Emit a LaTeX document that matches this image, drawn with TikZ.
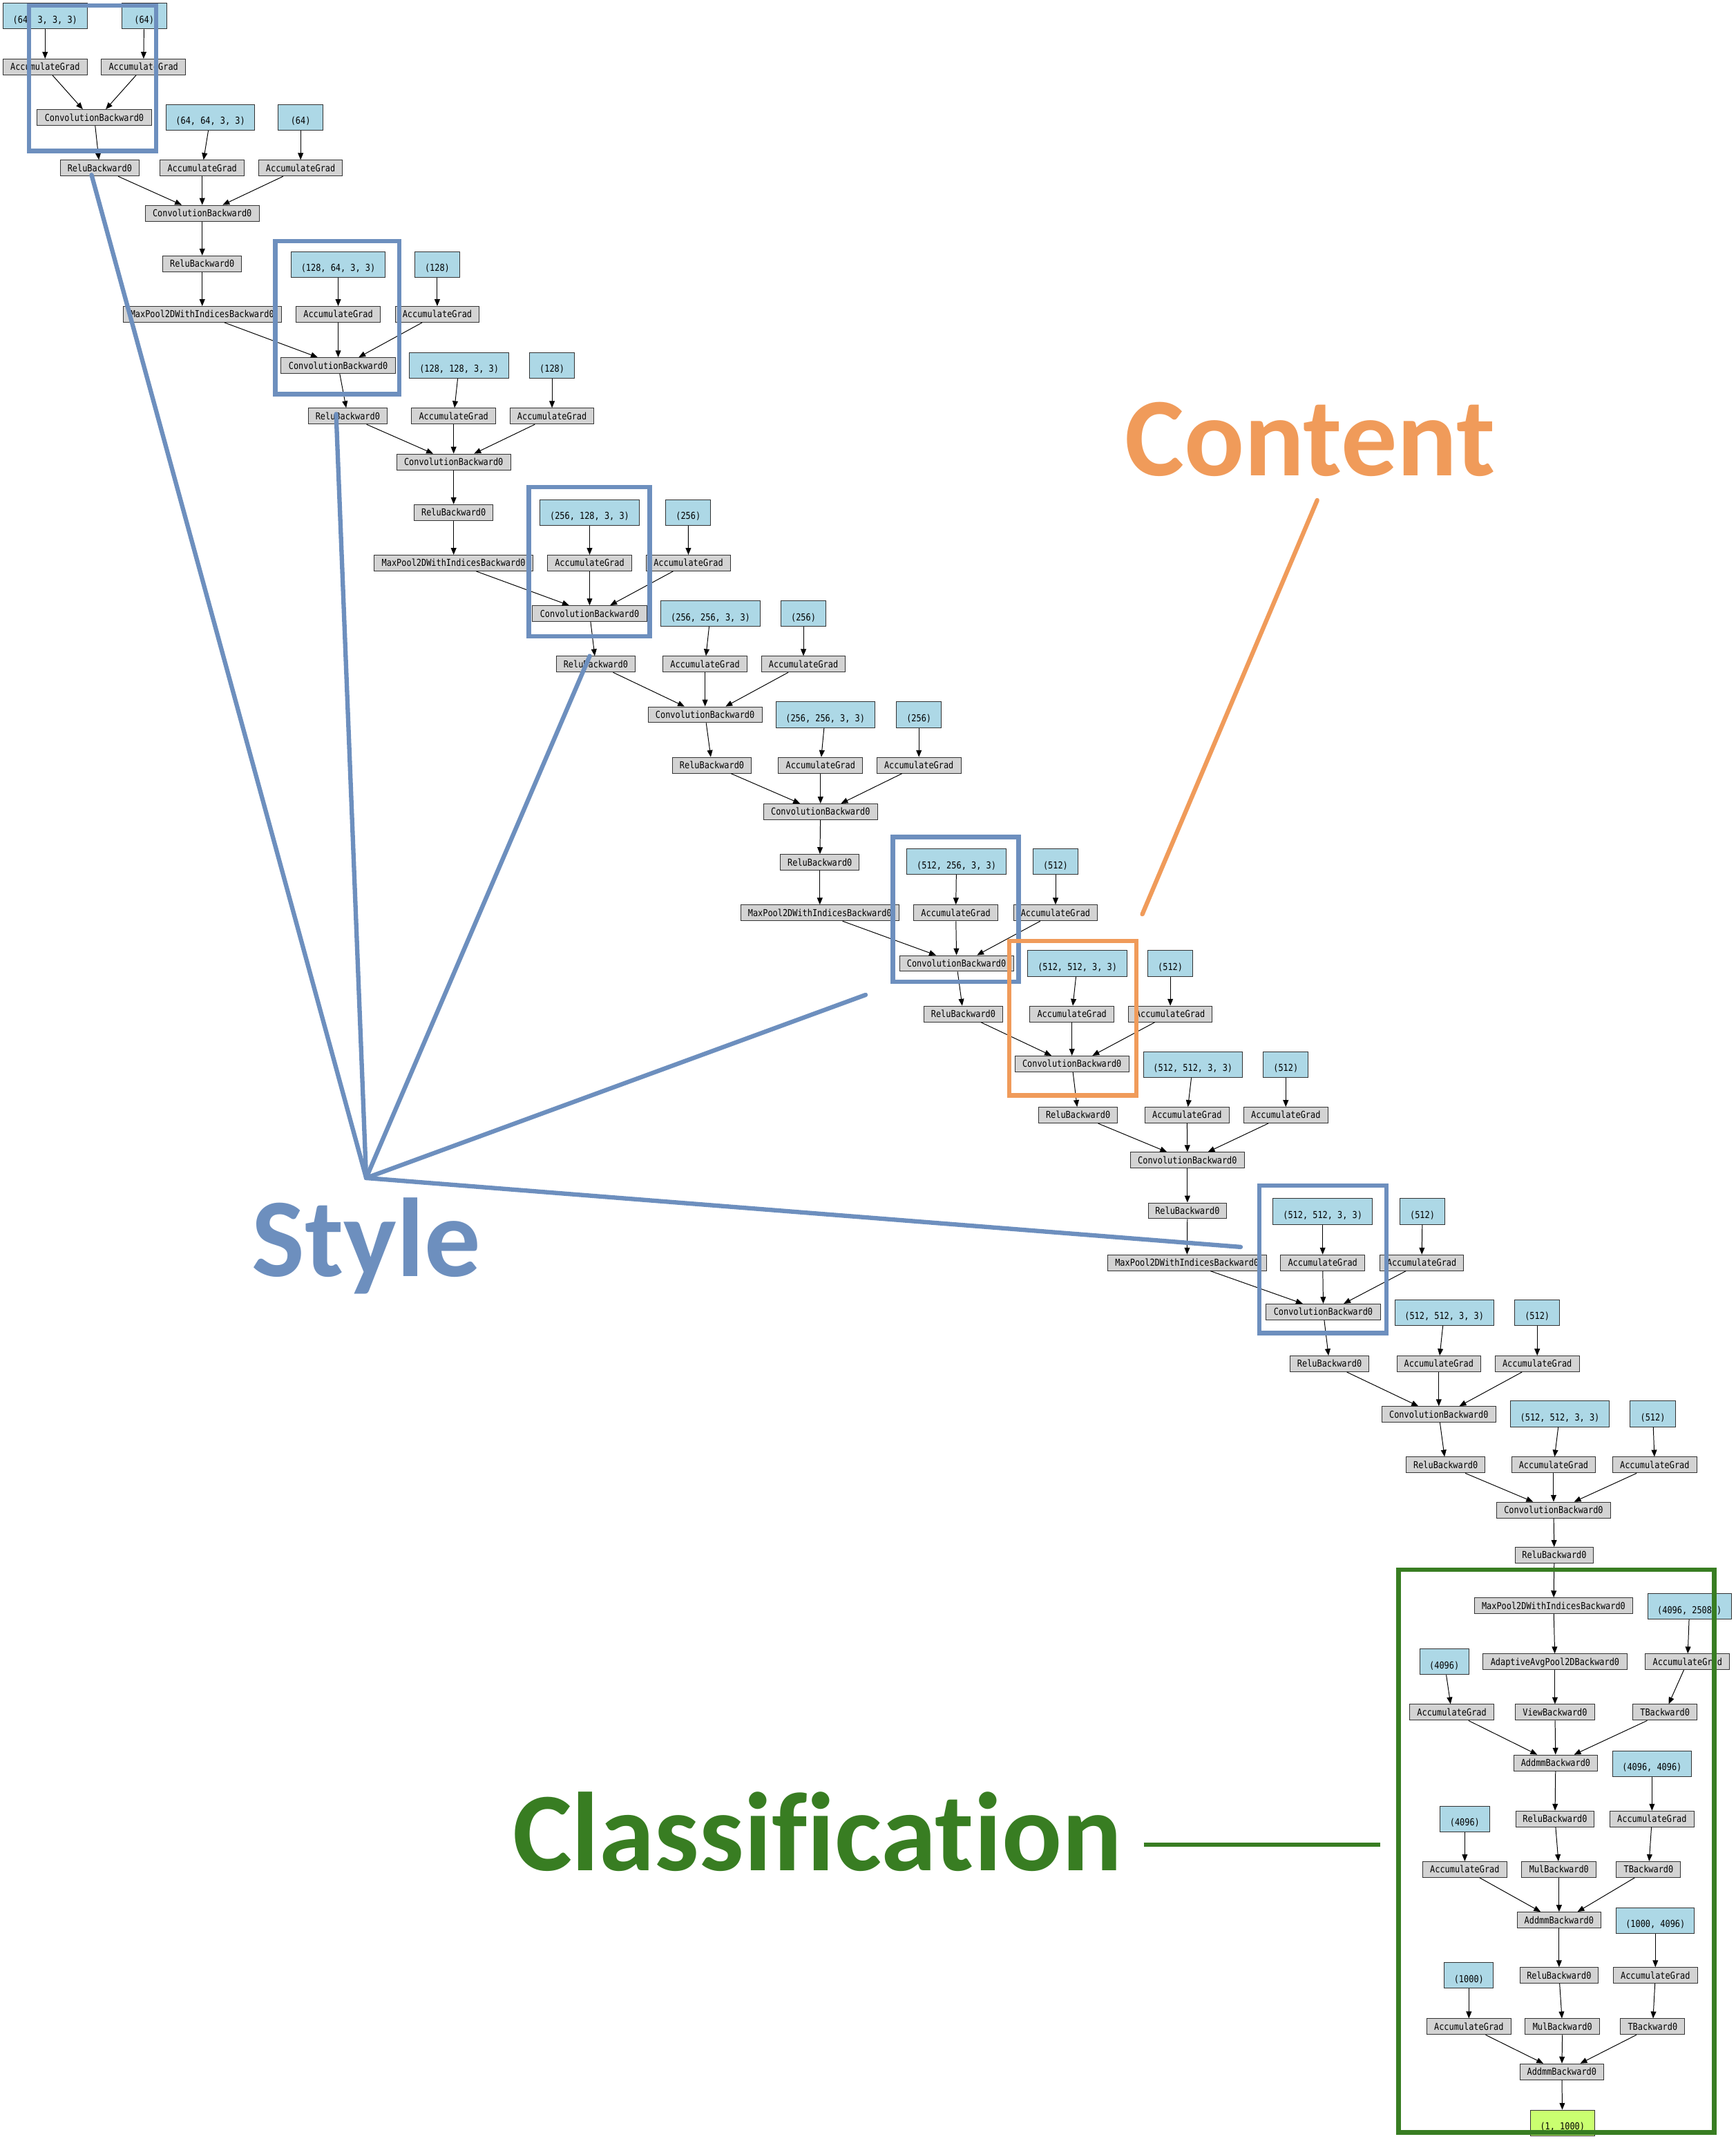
\documentclass[tikz,border=0pt]{standalone}
\usepackage{fontspec}
\usetikzlibrary{arrows.meta}
\newfontfamily\gvfont[FakeStretch=0.86]{DejaVu Sans Mono}
\newfontfamily\bigfont[Ligatures={NoCommon,NoRare,NoContextual}]{Carlito}
\definecolor{gvgray}{HTML}{D3D3D3}
\definecolor{gvblue}{HTML}{ADD8E6}
\definecolor{gvgreen}{HTML}{CAFF70}
\definecolor{stylecol}{RGB}{109,143,190}
\definecolor{contentcol}{RGB}{240,155,90}
\definecolor{classcol}{RGB}{56,125,34}
\newcommand\cblock[2]{%
  \draw[e] (P#1w) -- (A#1w);
  \draw[e] (P#1b) -- (A#1b);
  \draw[e] (#2) -- ([xshift=-15pt]C#1.north);
  \draw[e] (A#1w) -- (C#1.north);
  \draw[e] (A#1b) -- ([xshift=15pt]C#1.north);
  \draw[e] (C#1) -- (R#1);}
\begin{document}
\begin{tikzpicture}[x=1pt,y=-1pt,
  gn/.style={draw=black!80, line width=0.5pt, fill=gvgray, inner sep=0pt,
    minimum height=11.6pt, minimum width=#1, text height=5pt, text depth=0pt,
    font=\gvfont\fontsize{7}{8}\selectfont},
  pn/.style={gn=#1, fill=gvblue, minimum height=18.8pt, text height=10pt},
  on/.style={pn=#1, fill=gvgreen},
  nacc/.style={gn=61.5pt}, nconv/.style={gn=83.5pt}, nrelu/.style={gn=57.5pt},
  nmax/.style={gn=116pt}, naap/.style={gn=106pt}, nview/.style={gn=58pt},
  ntb/.style={gn=47pt}, naddmm/.style={gn=61.5pt}, nmul/.style={gn=54.5pt},
  pbig/.style={pn=72.5pt}, psmall/.style={pn=33pt},
  e/.style={line width=0.5pt, -{Triangle[length=5pt,width=4pt]}},
  ann/.style={line width=3.2pt, line cap=round},
  bigtxt/.style={anchor=base west, inner sep=0pt, font=\bigfont\bfseries\fontsize{82}{82}\selectfont}]
\fill[white] (0,0) rectangle (1270,1565.25);
\useasboundingbox (0,0) rectangle (1270,1565.25);

% block 1
\node[pn=61.4pt] (P1w) at (33,11.8) {(64, 3, 3, 3)};
\node[psmall] (P1b) at (105.5,11.8) {(64)};
\node[nacc] (A1w) at (33,49) {AccumulateGrad};
\node[nacc] (A1b) at (105,49) {AccumulateGrad};
\node[nconv] (C1) at (69,86) {ConvolutionBackward0};
\node[nrelu] (R1) at (73,123) {ReluBackward0};
% block 2
\node[pn=65pt] (P2w) at (154,86) {(64, 64, 3, 3)};
\node[psmall] (P2b) at (220,86) {(64)};
\node[nacc] (A2w) at (148,123) {AccumulateGrad};
\node[nacc] (A2b) at (220,123) {AccumulateGrad};
\node[nconv] (C2) at (148,156) {ConvolutionBackward0};
\node[nrelu] (R2) at (148,193) {ReluBackward0};
\node[nmax] (M1) at (148,230) {MaxPool2DWithIndicesBackward0};
% block 3
\node[pn=68.7pt] (P3w) at (247.5,193.5) {(128, 64, 3, 3)};
\node[psmall] (P3b) at (320,193.5) {(128)};
\node[nacc] (A3w) at (247.5,230) {AccumulateGrad};
\node[nacc] (A3b) at (320,230) {AccumulateGrad};
\node[nconv] (C3) at (247.5,267.5) {ConvolutionBackward0};
\node[nrelu] (R3) at (254.5,304.5) {ReluBackward0};
% block 4
\node[pbig] (P4w) at (336,267.5) {(128, 128, 3, 3)};
\node[psmall] (P4b) at (404,267.5) {(128)};
\node[nacc] (A4w) at (332,304.5) {AccumulateGrad};
\node[nacc] (A4b) at (404,304.5) {AccumulateGrad};
\node[nconv] (C4) at (332,338) {ConvolutionBackward0};
\node[nrelu] (R4) at (332,375) {ReluBackward0};
\node[nmax] (M2) at (332,412) {MaxPool2DWithIndicesBackward0};
% block 5
\node[pbig] (P5w) at (431.5,375) {(256, 128, 3, 3)};
\node[psmall] (P5b) at (503.7,375) {(256)};
\node[nacc] (A5w) at (431.5,412) {AccumulateGrad};
\node[nacc] (A5b) at (503.8,412) {AccumulateGrad};
\node[nconv] (C5) at (431.5,449) {ConvolutionBackward0};
\node[nrelu] (R5) at (436,486) {ReluBackward0};
% block 6
\node[pbig] (P6w) at (520,449) {(256, 256, 3, 3)};
\node[psmall] (P6b) at (588,449) {(256)};
\node[nacc] (A6w) at (516,486) {AccumulateGrad};
\node[nacc] (A6b) at (588,486) {AccumulateGrad};
\node[nconv] (C6) at (516,523) {ConvolutionBackward0};
\node[nrelu] (R6) at (521,560) {ReluBackward0};
% block 7
\node[pbig] (P7w) at (604,523) {(256, 256, 3, 3)};
\node[psmall] (P7b) at (672.5,523) {(256)};
\node[nacc] (A7w) at (600.5,560) {AccumulateGrad};
\node[nacc] (A7b) at (672.5,560) {AccumulateGrad};
\node[nconv] (C7) at (600.5,594) {ConvolutionBackward0};
\node[nrelu] (R7) at (600,631) {ReluBackward0};
\node[nmax] (M3) at (600,668) {MaxPool2DWithIndicesBackward0};
% block 8
\node[pbig] (P8w) at (700,630.5) {(512, 256, 3, 3)};
\node[psmall] (P8b) at (772.5,630.5) {(512)};
\node[nacc] (A8w) at (699.5,668) {AccumulateGrad};
\node[nacc] (A8b) at (772.5,668) {AccumulateGrad};
\node[nconv] (C8) at (700,705) {ConvolutionBackward0};
\node[nrelu] (R8) at (705,742) {ReluBackward0};
% block 9
\node[pbig] (P9w) at (788.5,705) {(512, 512, 3, 3)};
\node[psmall] (P9b) at (856.5,705) {(512)};
\node[nacc] (A9w) at (784.5,742) {AccumulateGrad};
\node[nacc] (A9b) at (856.5,742) {AccumulateGrad};
\node[nconv] (C9) at (784.5,778.5) {ConvolutionBackward0};
\node[nrelu] (R9) at (789,816) {ReluBackward0};
% block 10
\node[pbig] (P10w) at (873,779) {(512, 512, 3, 3)};
\node[psmall] (P10b) at (941,779) {(512)};
\node[nacc] (A10w) at (868.7,816) {AccumulateGrad};
\node[nacc] (A10b) at (941,816) {AccumulateGrad};
\node[nconv] (C10) at (869,849) {ConvolutionBackward0};
\node[nrelu] (R10) at (869,886) {ReluBackward0};
\node[nmax] (M4) at (868.7,924) {MaxPool2DWithIndicesBackward0};
% block 11
\node[pbig] (P11w) at (968,886.5) {(512, 512, 3, 3)};
\node[psmall] (P11b) at (1041,886.5) {(512)};
\node[nacc] (A11w) at (968,924) {AccumulateGrad};
\node[nacc] (A11b) at (1040.5,924) {AccumulateGrad};
\node[nconv] (C11) at (968.4,960) {ConvolutionBackward0};
\node[nrelu] (R11) at (973,998) {ReluBackward0};
% block 12
\node[pbig] (P12w) at (1057,960.5) {(512, 512, 3, 3)};
\node[psmall] (P12b) at (1125,960.5) {(512)};
\node[nacc] (A12w) at (1053,998) {AccumulateGrad};
\node[nacc] (A12b) at (1125,998) {AccumulateGrad};
\node[nconv] (C12) at (1053,1035) {ConvolutionBackward0};
\node[nrelu] (R12) at (1058,1072) {ReluBackward0};
% block 13
\node[pbig] (P13w) at (1141.6,1034.6) {(512, 512, 3, 3)};
\node[psmall] (P13b) at (1209.6,1034.6) {(512)};
\node[nacc] (A13w) at (1137,1072) {AccumulateGrad};
\node[nacc] (A13b) at (1211,1072) {AccumulateGrad};
\node[nconv] (C13) at (1137,1105) {ConvolutionBackward0};
\node[nrelu] (R13) at (1137.5,1138) {ReluBackward0};
\node[nmax] (M5) at (1137,1175) {MaxPool2DWithIndicesBackward0};
% classifier
\node[pn=61pt] (F1pw) at (1236.5,1175.5) {(4096, 25088)};
\node[pn=36pt] (F1pb) at (1057,1216) {(4096)};
\node[naap] (AAP) at (1138,1216) {AdaptiveAvgPool2DBackward0};
\node[nacc] (F1aw) at (1235,1216) {AccumulateGrad};
\node[nacc] (F1ab) at (1062.5,1253) {AccumulateGrad};
\node[nview] (VIEW) at (1138,1253) {ViewBackward0};
\node[ntb] (F1t) at (1218.5,1253) {TBackward0};
\node[naddmm] (AD1) at (1138.5,1290) {AddmmBackward0};
\node[pn=58pt] (F2pw) at (1209,1290.5) {(4096, 4096)};
\node[pn=36pt] (F2pb) at (1072,1331) {(4096)};
\node[nrelu] (R14) at (1138,1331) {ReluBackward0};
\node[nacc] (F2aw) at (1209,1331) {AccumulateGrad};
\node[nacc] (F2ab) at (1072,1368) {AccumulateGrad};
\node[nmul] (MU1) at (1141,1368) {MulBackward0};
\node[ntb] (F2t) at (1206.5,1368) {TBackward0};
\node[naddmm] (AD2) at (1141,1405) {AddmmBackward0};
\node[pn=57pt] (F3pw) at (1211.5,1405.5) {(1000, 4096)};
\node[pn=36pt] (F3pb) at (1075,1445.5) {(1000)};
\node[nrelu] (R15) at (1141,1445.5) {ReluBackward0};
\node[nacc] (F3aw) at (1211.5,1445.5) {AccumulateGrad};
\node[nacc] (F3ab) at (1075,1483) {AccumulateGrad};
\node[nmul] (MU2) at (1143.5,1483) {MulBackward0};
\node[ntb] (F3t) at (1209.5,1483) {TBackward0};
\node[naddmm] (AD3) at (1143,1516) {AddmmBackward0};
\node[on=47pt] (OUT) at (1143.5,1553.5) {(1, 1000)};

% edges
\draw[e] (P1w) -- (A1w);
\draw[e] (P1b) -- (A1b);
\draw[e] (A1w) -- ([xshift=-8.4pt]C1.north);
\draw[e] (A1b) -- ([xshift=8.4pt]C1.north);
\draw[e] (C1) -- (R1);
\cblock{2}{R1}
\draw[e] (R2) -- (M1);
\cblock{3}{M1}
\cblock{4}{R3}
\draw[e] (R4) -- (M2);
\cblock{5}{M2}
\cblock{6}{R5}
\cblock{7}{R6}
\draw[e] (R7) -- (M3);
\cblock{8}{M3}
\cblock{9}{R8}
\cblock{10}{R9}
\draw[e] (R10) -- (M4);
\cblock{11}{M4}
\cblock{12}{R11}
\cblock{13}{R12}
\draw[e] (R13) -- (M5);
\draw[e] (M5) -- (AAP);
\draw[e] (AAP) -- (VIEW);
\draw[e] (VIEW) -- (AD1);
\draw[e] (F1pw) -- (F1aw);
\draw[e] (F1aw) -- (F1t);
\draw[e] (F1pb) -- (F1ab);
\draw[e] (F1ab) -- ([xshift=-13.5pt]AD1.north);
\draw[e] (F1t) -- ([xshift=13.5pt]AD1.north);
\draw[e] (AD1) -- (R14);
\draw[e] (R14) -- (MU1);
\draw[e] (MU1) -- (AD2);
\draw[e] (F2pw) -- (F2aw);
\draw[e] (F2aw) -- (F2t);
\draw[e] (F2pb) -- (F2ab);
\draw[e] (F2ab) -- ([xshift=-13.5pt]AD2.north);
\draw[e] (F2t) -- ([xshift=13.5pt]AD2.north);
\draw[e] (AD2) -- (R15);
\draw[e] (R15) -- (MU2);
\draw[e] (MU2) -- (AD3);
\draw[e] (F3pw) -- (F3aw);
\draw[e] (F3aw) -- (F3t);
\draw[e] (F3pb) -- (F3ab);
\draw[e] (F3ab) -- ([xshift=-13.5pt]AD3.north);
\draw[e] (F3t) -- ([xshift=13.5pt]AD3.north);
\draw[e] (AD3) -- (OUT);

% annotation boxes
\draw[ann, stylecol, line cap=butt] (21.1,3.9) rectangle (114.1,110.5);
\draw[ann, stylecol, line cap=butt] (201.5,176.5) rectangle (292.3,288.5);
\draw[ann, stylecol, line cap=butt] (387,356.3) rectangle (475.5,465.5);
\draw[ann, stylecol, line cap=butt] (653.5,612.5) rectangle (745.5,718.5);
\draw[ann, stylecol, line cap=butt] (921.5,867.5) rectangle (1014.5,975.5);
\draw[ann, contentcol, line cap=butt] (738.5,688.5) rectangle (831.5,801.5);
\draw[ann, classcol, line cap=butt] (1023.5,1148.5) rectangle (1254.5,1560.5);

% labels
\node[bigtxt, text=stylecol] (tstyle) at (184,934) {Style};
\node[bigtxt, text=contentcol] (tcontent) at (823,348) {Content};
\node[bigtxt, text=classcol] (tclass) at (375,1369) {Classification};

% pointer lines
\coordinate (hub) at (268,862);
\coordinate (s1) at (67,128);
\coordinate (s2) at (246,303);
\coordinate (s3) at (431.6,480);
\coordinate (s4) at (633.5,728);
\coordinate (s5) at (908,912.5);
\draw[ann, stylecol] (hub) -- (s1);
\draw[ann, stylecol] (hub) -- (s2);
\draw[ann, stylecol] (hub) -- (s3);
\draw[ann, stylecol] (hub) -- (s4);
\draw[ann, stylecol] (hub) -- (s5);
\coordinate (c1) at (964,366);
\coordinate (c2) at (836,669);
\draw[ann, contentcol] (c1) -- (c2);
\coordinate (g1) at (837,1350);
\coordinate (g2) at (1010,1350);
\draw[ann, classcol, line cap=butt] (g1) -- (g2);
\end{tikzpicture}
\end{document}
